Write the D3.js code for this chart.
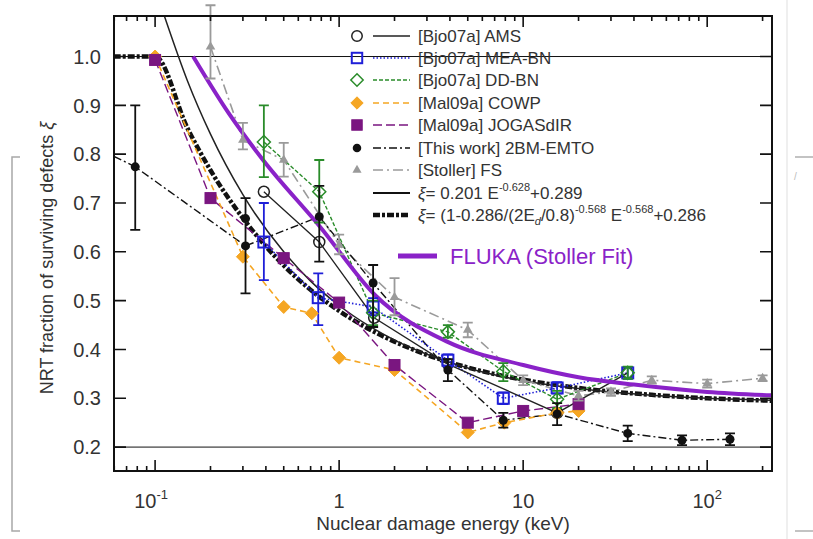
<!DOCTYPE html>
<html>
<head>
<meta charset="utf-8">
<script src="https://cdn.jsdelivr.net/npm/d3@7"></script>
<style>
  body { margin: 0; background: #fff; }
  svg { display: block; font-family: "Liberation Sans", Arial, sans-serif; }
</style>
</head>
<body>
<div id="chart"></div>
<script>
// values (E in keV, xi = NRT fraction)
const amsE = [0.39, 0.78, 1.55, 3.9, 15.3, 37];
const amsXi = [0.723, 0.62, 0.465, 0.37, 0.27, 0.352];

const meaE = [0.39, 0.77, 1.53, 3.9, 7.8, 15.3, 37];
const meaXi = [0.62, 0.506, 0.487, 0.378, 0.30, 0.321, 0.352];
const meaLo = [0.542, 0.45, 0.47, 0.365, 0.288, 0.31, 0.34];
const meaHi = [0.70, 0.556, 0.505, 0.39, 0.312, 0.333, 0.364];

const ddE = [0.39, 0.78, 1.53, 3.9, 7.8, 15.3, 37];
const ddXi = [0.825, 0.723, 0.475, 0.436, 0.355, 0.298, 0.352];
const ddLo = [0.753, 0.66, 0.45, 0.424, 0.335, 0.28, 0.34];
const ddHi = [0.90, 0.788, 0.50, 0.45, 0.372, 0.315, 0.365];

const cowpE = [0.1, 0.3, 0.5, 0.71, 1.0, 2.0, 5.0, 7.9, 15.3, 20];
const cowpXi = [1.0, 0.59, 0.487, 0.474, 0.383, 0.358, 0.23, 0.25, 0.27, 0.274];

const jogasE = [0.1, 0.2, 0.5, 1.0, 2.0, 5.0, 10, 20];
const jogasXi = [0.993, 0.71, 0.587, 0.496, 0.368, 0.25, 0.274, 0.288];

const emtoE = [0.05, 0.078, 0.31, 0.78, 1.53, 3.9, 7.8, 15.3, 37, 73, 133];
const emtoXi = [0.81, 0.774, 0.612, 0.672, 0.536, 0.358, 0.255, 0.268, 0.228, 0.214, 0.216];
const emtoLo = [null, 0.645, 0.515, 0.58, 0.446, 0.335, 0.24, 0.245, 0.212, 0.204, 0.204];
const emtoHi = [null, 0.90, 0.71, 0.735, 0.573, 0.38, 0.27, 0.29, 0.244, 0.224, 0.228];
const emtoExtraE = [0.31];
const emtoExtraXi = [0.668];

const fsE = [0.2, 0.3, 0.5, 1.0, 2.0, 5.0, 10, 20, 30, 50, 100, 200];
const fsXi = [1.02, 0.829, 0.788, 0.614, 0.507, 0.44, 0.337, 0.305, 0.313, 0.337, 0.33, 0.341];
const fsLo = [0.955, 0.81, 0.754, 0.595, 0.47, 0.425, 0.327, 0.295, 0.305, 0.33, 0.322, 0.335];
const fsHi = [1.105, 0.864, 0.823, 0.635, 0.546, 0.455, 0.347, 0.315, 0.32, 0.345, 0.338, 0.347];

const fit1E = [0.11, 0.15, 0.2, 0.3, 0.5, 0.7, 1, 1.5, 2, 3, 5, 10, 20, 50, 100, 225];
const fit1Xi = [1.093, 0.950, 0.841, 0.717, 0.600, 0.540, 0.490, 0.445, 0.419, 0.390, 0.362, 0.336, 0.320, 0.306, 0.300, 0.296];

const fit2E = [0.05, 0.1, 0.15, 0.2, 0.3, 0.5, 0.7, 1, 1.5, 2, 3, 5, 10, 20, 50, 100, 225];
const fit2Xi = [1.0, 1.0, 0.853, 0.767, 0.669, 0.572, 0.522, 0.479, 0.439, 0.416, 0.389, 0.363, 0.338, 0.321, 0.307, 0.300, 0.295];

const flukaE = [0.161, 0.25, 0.386, 0.789, 1.57, 3.86, 10, 20, 40, 100, 225];
const flukaXi = [1.0, 0.885, 0.788, 0.651, 0.511, 0.416, 0.368, 0.343, 0.328, 0.313, 0.306];

const yTicks = [0.2, 0.3, 0.4, 0.5, 0.6, 0.7, 0.8, 0.9, 1.0];
const xMajor = [0.1, 1, 10, 100];
const xLabelBase = ["10", "1", "10", "10"];
const xLabelSup = ["-1", "", "", "2"];

const width = 813;
const height = 539;
const plot = { left: 114, top: 16, right: 772, bottom: 471 };

const svg = d3.select("#chart").append("svg")
  .attr("width", width)
  .attr("height", height);

const x = d3.scaleLog().domain([0.0598, 225]).range([plot.left, plot.right]);
const y = d3.scaleLinear().domain([0.151, 1.083]).range([plot.bottom, plot.top]);

svg.append("clipPath").attr("id", "clip")
  .append("rect")
  .attr("x", plot.left).attr("y", plot.top)
  .attr("width", plot.right - plot.left).attr("height", plot.bottom - plot.top);

// slide leftovers around the figure
const deco = svg.append("g").attr("fill", "none");
deco.append("path").attr("d", "M20,157H12V531H20").attr("stroke", "#a8a8a8").attr("stroke-width", 1.5);
deco.append("line").attr("x1", 787).attr("x2", 787).attr("y1", 0).attr("y2", height)
  .attr("stroke", "#efefef").attr("stroke-width", 2);
deco.append("path").attr("d", "M795,157H813M795,531H813").attr("stroke", "#b0b0b0").attr("stroke-width", 1.5);
svg.append("text").attr("x", 794).attr("y", 180).attr("font-size", 10).attr("fill", "#bbb").text("/");

// reference lines at 1.0 and 0.2
svg.append("g").selectAll("line").data([1.0, 0.2]).join("line")
  .attr("x1", plot.left).attr("x2", plot.right)
  .attr("y1", (d) => y(d)).attr("y2", (d) => y(d))
  .attr("stroke", "#111").attr("stroke-width", 1);

const zip = (a, b) => a.map((d, i) => [d, b[i]]);
const line = d3.line().x((d) => x(d[0])).y((d) => y(d[1]));
const smooth = d3.line().x((d) => x(d[0])).y((d) => y(d[1])).curve(d3.curveMonotoneX);

const curves = svg.append("g").attr("clip-path", "url(#clip)").attr("fill", "none");

const series = [
  { name: "[Bjo07a] AMS", E: amsE, xi: amsXi, color: "#222", dash: null, lw: 1.3, marker: "circle", fill: "none" },
  { name: "[Bjo07a] MEA-BN", E: meaE, xi: meaXi, lo: meaLo, hi: meaHi, color: "#1f1fd8", dash: "1.5,2", lw: 1.6, marker: "square", fill: "none" },
  { name: "[Bjo07a] DD-BN", E: ddE, xi: ddXi, lo: ddLo, hi: ddHi, color: "#2a8c2a", dash: "4,2", lw: 1.4, marker: "diamond", fill: "none" },
  { name: "[Mal09a] COWP", E: cowpE, xi: cowpXi, color: "#f5a623", dash: "6,4", lw: 1.6, marker: "diamond", fill: "#f5a623" },
  { name: "[Mal09a] JOGASdIR", E: jogasE, xi: jogasXi, color: "#7a1680", dash: "9,4", lw: 1.4, marker: "square", fill: "#7a1680" },
  { name: "[This work] 2BM-EMTO", E: emtoE, xi: emtoXi, lo: emtoLo, hi: emtoHi, color: "#111", dash: "8,3,2,3", lw: 1.4, marker: "dot", fill: "#111" },
  { name: "[Stoller] FS", E: fsE, xi: fsXi, lo: fsLo, hi: fsHi, color: "#9a9a9a", dash: "10,4,2,4", lw: 1.6, marker: "triangle", fill: "#9a9a9a" },
];

// fit curves under the data
curves.append("path").attr("d", smooth(zip(fit2E, fit2Xi)))
  .attr("stroke", "#111").attr("stroke-width", 4.5).attr("stroke-dasharray", "7,2,3,2");
curves.append("path").attr("d", smooth(zip(fit1E, fit1Xi)))
  .attr("stroke", "#222").attr("stroke-width", 1.5);

series.slice().reverse().forEach((s) => {
  curves.append("path").attr("d", line(zip(s.E, s.xi)))
    .attr("stroke", s.color).attr("stroke-width", s.lw)
    .attr("stroke-dasharray", s.dash);
});

curves.append("path").attr("d", smooth(zip(flukaE, flukaXi)))
  .attr("stroke", "#8a22c8").attr("stroke-width", 4);

function drawMarker(g, type, cx, cy, color, fill, scale = 1) {
  if (type === "circle") {
    g.append("circle").attr("cx", cx).attr("cy", cy).attr("r", 5.5 * scale)
      .attr("fill", "#fff").attr("fill-opacity", 0).attr("stroke", color).attr("stroke-width", 1.5);
  } else if (type === "square") {
    const s = 11 * scale;
    g.append("rect").attr("x", cx - s / 2).attr("y", cy - s / 2).attr("width", s).attr("height", s)
      .attr("fill", fill).attr("stroke", color).attr("stroke-width", fill === "none" ? 2 : 1);
  } else if (type === "diamond") {
    const r = 6.5 * scale;
    g.append("path").attr("d", `M${cx},${cy - r}L${cx + r},${cy}L${cx},${cy + r}L${cx - r},${cy}Z`)
      .attr("fill", fill).attr("stroke", color).attr("stroke-width", fill === "none" ? 1.5 : 1);
  } else if (type === "dot") {
    g.append("circle").attr("cx", cx).attr("cy", cy).attr("r", 4.5 * scale).attr("fill", fill);
  } else if (type === "triangle") {
    g.append("path").attr("transform", `translate(${cx},${cy})`)
      .attr("d", d3.symbol(d3.symbolTriangle, 40 * scale * scale)()).attr("fill", fill);
  }
}

const marks = svg.append("g");
series.forEach((s) => {
  s.E.forEach((e, i) => {
    if (x(e) < plot.left) return;
    if (s.lo && s.lo[i] != null) {
      const cx = x(e);
      marks.append("path")
        .attr("d", `M${cx},${y(s.lo[i])}V${y(s.hi[i])}M${cx - 5},${y(s.lo[i])}h10M${cx - 5},${y(s.hi[i])}h10`)
        .attr("stroke", s.color).attr("stroke-width", 1.8).attr("fill", "none");
    }
    drawMarker(marks, s.marker, x(e), y(s.xi[i]), s.color, s.fill);
  });
});
emtoExtraE.forEach((e, i) => drawMarker(marks, "dot", x(e), y(emtoExtraXi[i]), "#111", "#111"));

// frame and ticks
const axes = svg.append("g").attr("stroke", "#111").attr("fill", "none");
axes.append("rect")
  .attr("x", plot.left).attr("y", plot.top)
  .attr("width", plot.right - plot.left).attr("height", plot.bottom - plot.top)
  .attr("stroke-width", 2);

const xAll = x.ticks().filter((d) => d >= 0.0598 && d <= 225);
const isMajor = (d) => Math.abs(Math.log10(d) - Math.round(Math.log10(d))) < 1e-6;
xAll.forEach((d) => {
  const len = isMajor(d) ? 11 : 5;
  const px = x(d);
  axes.append("path").attr("d", `M${px},${plot.bottom}v${-len}M${px},${plot.top}v${len}`)
    .attr("stroke-width", 1.6);
});
yTicks.forEach((d) => {
  const py = y(d);
  axes.append("path").attr("d", `M${plot.left},${py}h12M${plot.right},${py}h-12`)
    .attr("stroke-width", 1.6);
});

const labels = svg.append("g").attr("fill", "#333");
labels.selectAll(".ylab").data(yTicks).join("text")
  .attr("x", 101).attr("y", (d) => y(d))
  .attr("dy", "0.36em").attr("text-anchor", "end").attr("font-size", 20)
  .text(d3.format(".1f"));

xMajor.forEach((d, i) => {
  const t = labels.append("text")
    .attr("x", x(d) - (xLabelSup[i] === "-1" ? 4 : 0)).attr("y", 508)
    .attr("text-anchor", "middle").attr("font-size", 20);
  t.append("tspan").text(xLabelBase[i]);
  if (xLabelSup[i]) t.append("tspan").attr("dy", -9).attr("font-size", 13).text(xLabelSup[i]);
});

labels.append("text")
  .attr("transform", "translate(53,258) rotate(-90)")
  .attr("text-anchor", "middle").attr("font-size", 18)
  .call((t) => {
    t.append("tspan").text("NRT fraction of surviving defects ");
    t.append("tspan").attr("font-style", "italic").text("ξ");
  });
labels.append("text")
  .attr("x", 443).attr("y", 530)
  .attr("text-anchor", "middle").attr("font-size", 19)
  .text("Nuclear damage energy (keV)");

// legend
const legend = svg.append("g");
const rowY = [36, 58, 80, 103, 125, 148, 170, 193, 215];
series.forEach((s, i) => {
  const ly = rowY[i];
  drawMarker(legend, s.marker, 357, ly, s.color, s.fill, 0.95);
  legend.append("line").attr("x1", 373).attr("x2", 410).attr("y1", ly).attr("y2", ly)
    .attr("stroke", s.color).attr("stroke-width", s.lw).attr("stroke-dasharray", s.dash);
  legend.append("text").attr("x", 418).attr("y", ly).attr("dy", "0.36em")
    .attr("font-size", 17).attr("fill", "#333").text(s.name);
});

legend.append("line").attr("x1", 373).attr("x2", 410).attr("y1", rowY[7]).attr("y2", rowY[7])
  .attr("stroke", "#111").attr("stroke-width", 1.8);
legend.append("text").attr("x", 418).attr("y", rowY[7]).attr("dy", "0.36em")
  .attr("font-size", 17).attr("fill", "#333")
  .call((t) => {
    t.append("tspan").attr("font-style", "italic").text("ξ");
    t.append("tspan").text("= 0.201 E");
    t.append("tspan").attr("dy", -8).attr("font-size", 11).text("-0.628");
    t.append("tspan").attr("dy", 8).text("+0.289");
  });

legend.append("line").attr("x1", 373).attr("x2", 410).attr("y1", rowY[8]).attr("y2", rowY[8])
  .attr("stroke", "#111").attr("stroke-width", 4.5).attr("stroke-dasharray", "7,2,3,2");
legend.append("text").attr("x", 418).attr("y", rowY[8]).attr("dy", "0.36em")
  .attr("font-size", 17).attr("fill", "#333")
  .call((t) => {
    t.append("tspan").attr("font-style", "italic").text("ξ");
    t.append("tspan").text("= (1-0.286/(2E");
    t.append("tspan").attr("dy", 4).attr("font-size", 11).attr("font-style", "italic").text("d");
    t.append("tspan").attr("dy", -4).text("/0.8)");
    t.append("tspan").attr("dy", -8).attr("font-size", 11).text("-0.568");
    t.append("tspan").attr("dy", 8).text(" E");
    t.append("tspan").attr("dy", -8).attr("font-size", 11).text("-0.568");
    t.append("tspan").attr("dy", 8).text("+0.286");
  });

legend.append("line").attr("x1", 398).attr("x2", 437).attr("y1", 256).attr("y2", 256)
  .attr("stroke", "#8a22c8").attr("stroke-width", 5);
legend.append("text").attr("x", 450).attr("y", 256).attr("dy", "0.36em")
  .attr("font-size", 22).attr("fill", "#8a22c8").text("FLUKA (Stoller Fit)");
</script>
</body>
</html>
